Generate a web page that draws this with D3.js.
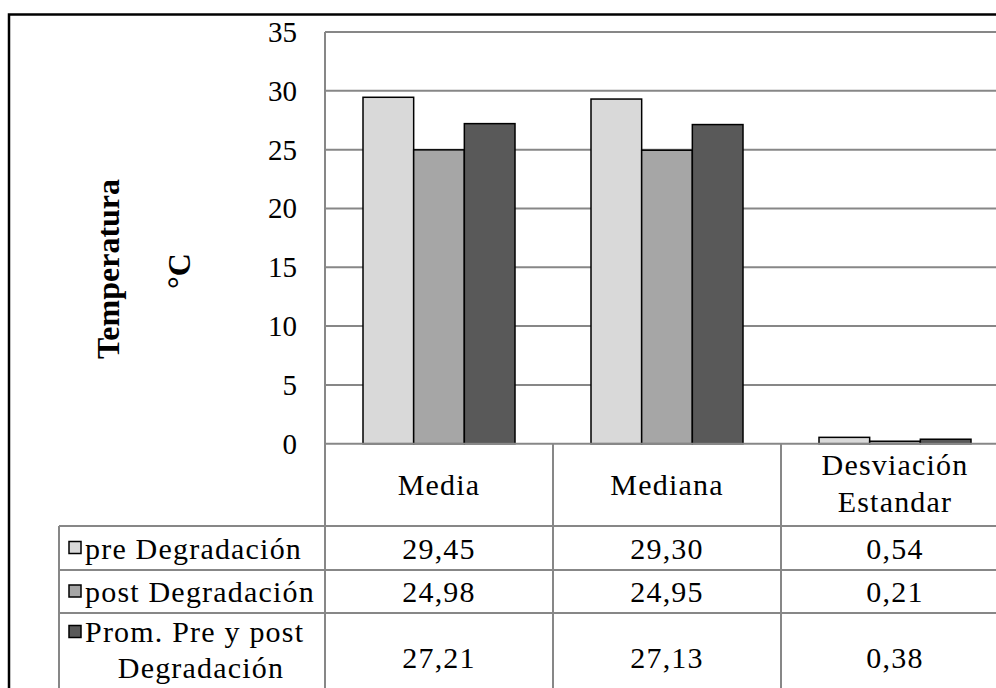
<!DOCTYPE html>
<html>
<head>
<meta charset="utf-8">
<script src="https://cdn.jsdelivr.net/npm/d3@7"></script>
<style>
  html, body { margin: 0; padding: 0; background: #fff; }
  svg { display: block; }
</style>
</head>
<body>
<svg id="chart" width="996" height="688" style="font-family: 'Liberation Serif', 'Times New Roman', serif;"></svg>
<script>
// ---- data ----
const categories = ["Media", "Mediana", "Desviación Estandar"];
const categoryLines = [["Media"], ["Mediana"], ["Desviación", "Estandar"]];
const seriesNames = ["pre Degradación", "post Degradación", "Prom. Pre y post Degradación"];
const seriesLines = [["pre Degradación"], ["post Degradación"], ["Prom. Pre y post", "Degradación"]];
const preValues = [29.45, 29.30, 0.54];
const postValues = [24.98, 24.95, 0.21];
const promValues = [27.21, 27.13, 0.38];
const seriesColors = ["#d9d9d9", "#a6a6a6", "#595959"];
const yTicks = [0, 5, 10, 15, 20, 25, 30, 35];
const yTitle = ["Temperatura", "°C"];

const seriesValues = [preValues, postValues, promValues];

// ---- layout ----
const FONT = "'Liberation Serif', 'Times New Roman', serif";
const svg = d3.select("#chart");
const plotLeft = 325, plotTop = 32, plotBottom = 443.7, catW = 228;
const plotRight = plotLeft + catW * categories.length;
const legendLeft = 59;
const rowEdges = [plotBottom, 526, 570, 613, 701];
const gridColor = "#878787";
const fs = 30;
const ls = 1.2;

function txt(sel) {
  return sel.append("text").style("font-family", FONT).attr("fill", "#000");
}

const x = d3.scaleBand().domain(categories).range([plotLeft, plotRight]).paddingInner(0).paddingOuter(0);
const x1 = d3.scaleBand().domain(seriesNames).range([0, x.bandwidth()]).paddingInner(0).paddingOuter(0.75);
const y = d3.scaleLinear().domain([0, 35]).range([plotBottom, plotTop]);

// outer border
svg.append("rect").attr("x", 9).attr("y", 14.5).attr("width", 1100).attr("height", 800)
  .attr("fill", "none").attr("stroke", "#000").attr("stroke-width", 2.5);

// gridlines
svg.append("g").selectAll("line").data(yTicks.filter(t => t > 0)).join("line")
  .attr("x1", plotLeft).attr("x2", plotRight)
  .attr("y1", d => y(d)).attr("y2", d => y(d))
  .attr("stroke", gridColor).attr("stroke-width", 2);

// bars
const groups = svg.append("g").selectAll("g").data(categories).join("g")
  .attr("transform", d => `translate(${x(d)},0)`);
groups.selectAll("rect").data((c, ci) => seriesNames.map((s, si) => ({s, si, v: seriesValues[si][ci]})))
  .join("rect")
  .attr("x", d => x1(d.s)).attr("width", x1.bandwidth())
  .attr("y", d => y(d.v)).attr("height", d => y(0) - y(d.v))
  .attr("fill", d => seriesColors[d.si])
  .attr("stroke", "#000").attr("stroke-width", 1.5);

// y tick labels
const tg = svg.append("g");
yTicks.forEach(t => {
  txt(tg).attr("x", 297).attr("y", y(t) + 10)
    .attr("text-anchor", "end").attr("font-size", 29)
    .text(t);
});

// y title
txt(svg).attr("transform", "translate(119,269) rotate(-90)")
  .attr("text-anchor", "middle").attr("font-size", 32).attr("font-weight", "bold")
  .text(yTitle[0]);
txt(svg).attr("transform", "translate(190,271) rotate(-90)")
  .attr("text-anchor", "middle").attr("font-size", 32).attr("font-weight", "bold")
  .text(yTitle[1]);

// table lines
const tl = svg.append("g").attr("stroke", gridColor).attr("stroke-width", 2);
tl.append("line").attr("x1", plotLeft).attr("x2", plotRight).attr("y1", plotTop).attr("y2", plotTop);
tl.append("line").attr("x1", plotLeft).attr("x2", plotLeft).attr("y1", plotTop).attr("y2", 720);
tl.append("line").attr("x1", plotLeft).attr("x2", plotRight).attr("y1", plotBottom).attr("y2", plotBottom);
tl.selectAll("line.row").data(rowEdges.slice(1, 4)).join("line").attr("class", "row")
  .attr("x1", legendLeft).attr("x2", plotRight).attr("y1", d => d).attr("y2", d => d);
tl.append("line").attr("x1", legendLeft).attr("x2", legendLeft).attr("y1", rowEdges[1]).attr("y2", 720);
tl.selectAll("line.cat").data(categories.slice(1)).join("line").attr("class", "cat")
  .attr("x1", d => x(d)).attr("x2", d => x(d)).attr("y1", plotBottom).attr("y2", 720);

// category header labels
const headerMid = (rowEdges[0] + rowEdges[1]) / 2;
categories.forEach((c, ci) => {
  const lines = categoryLines[ci];
  const cx = x(c) + x.bandwidth() / 2;
  lines.forEach((ln, li) => {
    const by = lines.length === 1 ? headerMid + 10.5 : [475, 512][li];
    txt(svg).attr("x", cx).attr("y", by).attr("text-anchor", "middle")
      .attr("font-size", fs).attr("letter-spacing", ls).text(ln);
  });
});

// legend rows + values
const fmt = v => d3.format(".2f")(v).replace(".", ",");
seriesNames.forEach((s, si) => {
  const top = rowEdges[si + 1], bot = rowEdges[si + 2];
  const lines = seriesLines[si];
  const mid = lines.length === 1 ? (top + bot) / 2 : 657;
  const keyMid = lines.length === 1 ? mid : 632;
  svg.append("rect").attr("x", 69).attr("y", keyMid - 6.5).attr("width", 12).attr("height", 12)
    .attr("fill", seriesColors[si]).attr("stroke", "#000").attr("stroke-width", 1.5);
  if (lines.length === 1) {
    txt(svg).attr("x", 85).attr("y", mid + 10.5).attr("font-size", fs)
      .attr("letter-spacing", ls).text(lines[0]);
  } else {
    txt(svg).attr("x", 85).attr("y", 642).attr("font-size", fs)
      .attr("letter-spacing", ls).text(lines[0]);
    txt(svg).attr("x", 201).attr("y", 678).attr("text-anchor", "middle")
      .attr("font-size", fs).attr("letter-spacing", ls).text(lines[1]);
  }
  categories.forEach((c, ci) => {
    txt(svg).attr("x", x(c) + x.bandwidth() / 2).attr("y", mid + 10.5)
      .attr("text-anchor", "middle").attr("font-size", fs).attr("letter-spacing", ls)
      .text(fmt(seriesValues[si][ci]));
  });
});
</script>
</body>
</html>
